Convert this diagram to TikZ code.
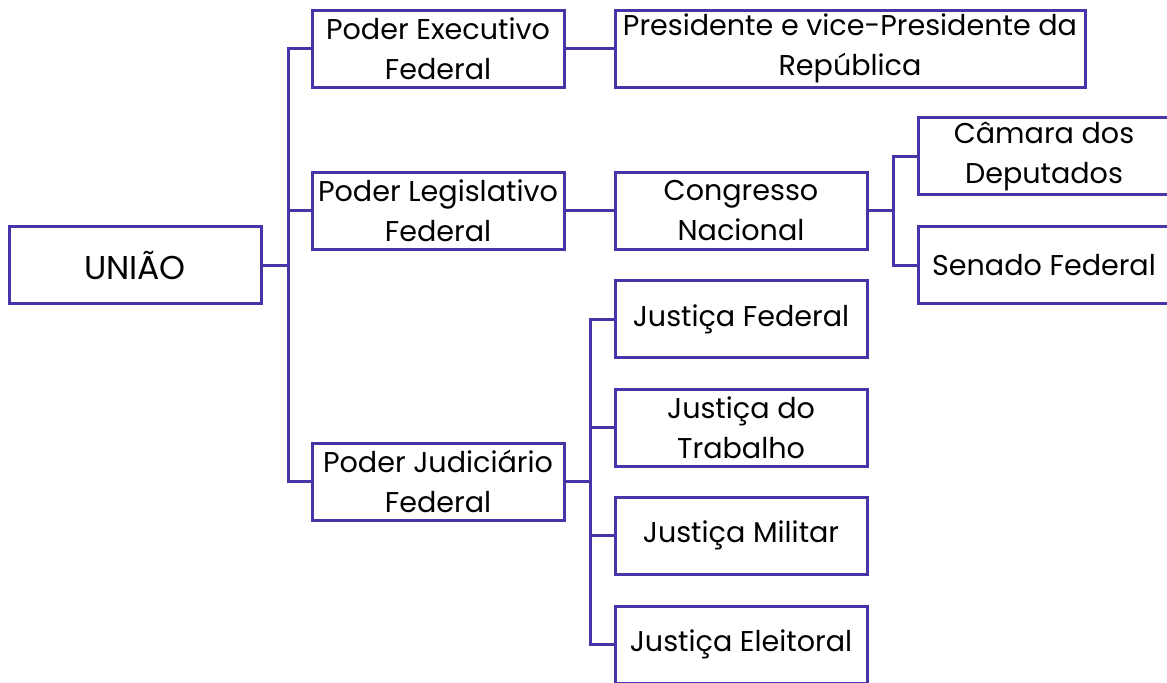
\documentclass[tikz,border=0pt]{standalone}
\usepackage{fontspec}
\setmainfont{Poppins}
\usetikzlibrary{positioning}

\definecolor{linha}{HTML}{4535A8}

\tikzset{
	caixa/.style={draw=linha, line width=1.5pt, align=center, inner sep=0pt,
		minimum width=126pt, minimum height=38.5pt,
		font=\fontsize{14.3}{20}\selectfont},
	liga/.style={draw=linha, line width=1.5pt}
}

\begin{document}
\begin{tikzpicture}[x=0.5pt, y=-0.5pt]
	\useasboundingbox (0,0) rectangle (1167,682);

	\node[caixa, font=\fontsize{16.5}{20}\selectfont] (uniao) at (135,265) {UNIÃO};

	\node[caixa] (exec) at (438,48.5) {Poder Executivo\\Federal};
	\node[caixa] (legis) at (438,210.5) {Poder Legislativo\\Federal};
	\node[caixa] (judic) at (438,481.5) {Poder Judiciário\\Federal};

	\node[caixa, minimum width=235pt] (pres) at (850,48.5) {Presidente e vice-Presidente da\\República};
	\node[caixa] (congr) at (741,210.5) {Congresso\\Nacional};

	\node[caixa] (camara) at (1044,156) {Câmara dos\\Deputados};
	\node[caixa] (senado) at (1044,265) {Senado Federal};

	\node[caixa] (jfed) at (741,319) {Justiça Federal};
	\node[caixa] (jtrab) at (741,427.5) {Justiça do\\Trabalho};
	\node[caixa] (jmil) at (741,535.5) {Justiça Militar};
	\node[caixa] (jele) at (741,644.5) {Justiça Eleitoral};

	% pontos de junção
	\coordinate (j1) at (288,265);
	\coordinate (j2) at (893,210.5);
	\coordinate (j3) at (590,481.5);

	\draw[liga] (uniao) -- (j1);
	\draw[liga] (j1) |- (exec);
	\draw[liga] (j1) |- (legis);
	\draw[liga] (j1) |- (judic);

	\draw[liga] (exec) -- (pres);
	\draw[liga] (legis) -- (congr);

	\draw[liga] (congr) -- (j2);
	\draw[liga] (j2) |- (camara);
	\draw[liga] (j2) |- (senado);

	\draw[liga] (judic) -- (j3);
	\draw[liga] (j3) |- (jfed);
	\draw[liga] (j3) |- (jtrab);
	\draw[liga] (j3) |- (jmil);
	\draw[liga] (j3) |- (jele);
\end{tikzpicture}
\end{document}
